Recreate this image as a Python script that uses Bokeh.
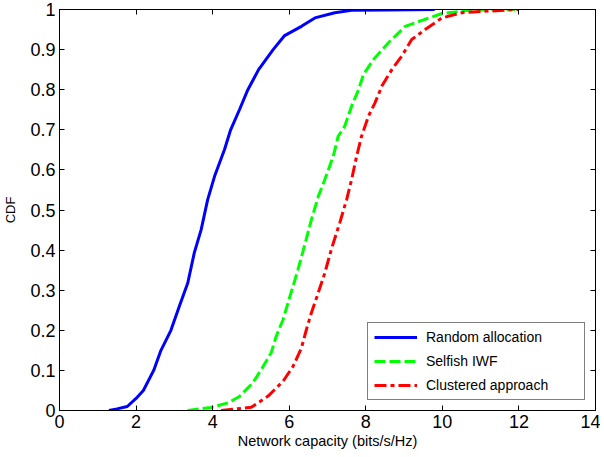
from bokeh.plotting import figure
from bokeh.models import Range1d, LinearAxis, CustomJSTickFormatter, FixedTicker, Legend, LegendItem
from bokeh.embed import file_html
from bokeh.resources import INLINE

# Random allocation
rand_x = [1.29, 1.5, 1.77, 2.0, 2.19, 2.46, 2.65, 2.91, 3.13, 3.35, 3.52, 3.70, 3.87, 4.05, 4.31,
          4.47, 4.70, 4.92, 5.2, 5.58, 5.88, 6.32, 6.67, 7.19, 7.63, 8.5, 9.8]
rand_y = [0, 0.004, 0.01, 0.03, 0.05, 0.10, 0.15, 0.20, 0.26, 0.318, 0.393, 0.451, 0.526, 0.584, 0.651,
          0.70, 0.75, 0.80, 0.85, 0.90, 0.935, 0.958, 0.979, 0.992, 0.998, 0.999, 1.0]

# Selfish IWF
iwf_x = [3.35, 3.96, 4.40, 4.7, 5.05, 5.27, 5.53, 5.66, 5.84, 5.97, 6.10, 6.23, 6.36, 6.58, 6.76,
         6.93, 7.15, 7.28, 7.45, 7.63, 7.81, 7.94, 8.20, 8.59, 9.03, 9.47, 9.99, 10.69, 11.9]
iwf_y = [0, 0.0075, 0.019, 0.035, 0.069, 0.102, 0.144, 0.185, 0.227, 0.269, 0.31, 0.352, 0.397, 0.476, 0.534,
         0.576, 0.634, 0.684, 0.709, 0.759, 0.80, 0.838, 0.875, 0.917, 0.958, 0.973, 0.99, 0.998, 1.0]

# Clustered approach
clu_x = [4.22, 5.01, 5.45, 5.84, 6.10, 6.32, 6.45, 6.58, 6.76, 6.93, 7.11, 7.32, 7.50, 7.63, 7.76,
         7.89, 8.07, 8.24, 8.42, 8.68, 8.94, 9.20, 9.55, 9.99, 10.51, 11.2, 12.0]
clu_y = [0, 0.008, 0.036, 0.073, 0.11, 0.156, 0.202, 0.244, 0.294, 0.343, 0.405, 0.468, 0.526, 0.576, 0.634,
         0.684, 0.734, 0.767, 0.809, 0.85, 0.884, 0.925, 0.95, 0.979, 0.992, 0.996, 1.0]

x_ticks = [0, 2, 4, 6, 8, 10, 12, 14]
y_ticks = [0, 0.1, 0.2, 0.3, 0.4, 0.5, 0.6, 0.7, 0.8, 0.9, 1.0]

FONT = "Liberation Sans"

p = figure(width=600, height=456, output_backend="svg", toolbar_location=None,
           x_range=Range1d(0, 14), y_range=Range1d(0, 1),
           min_border_left=55, min_border_right=5, min_border_top=9, min_border_bottom=46)
p.grid.visible = False
p.outline_line_color = "black"
p.outline_line_width = 1
p.background_fill_color = "white"
p.border_fill_color = "white"

fmt = CustomJSTickFormatter(code="return String(Math.round(tick*10)/10);")

for ax in [p.xaxis[0], p.yaxis[0]]:
    ax.major_tick_in = 5
    ax.major_tick_out = 0
    ax.minor_tick_line_color = None
    ax.axis_line_color = "black"
    ax.major_tick_line_color = "black"
    ax.major_label_text_font = FONT
    ax.major_label_text_font_size = "18px"
    ax.major_label_text_color = "black"
    ax.axis_label_text_font = FONT
    ax.axis_label_text_font_style = "normal"
    ax.axis_label_text_color = "black"

p.xaxis[0].ticker = FixedTicker(ticks=x_ticks)
p.yaxis[0].ticker = FixedTicker(ticks=y_ticks)
p.xaxis[0].formatter = fmt
p.yaxis[0].formatter = fmt
p.xaxis[0].axis_label = "Network capacity (bits/s/Hz)"
p.xaxis[0].axis_label_text_font_size = "14.5px"
p.xaxis[0].major_label_standoff = 4
p.xaxis[0].axis_label_standoff = 2
p.yaxis[0].axis_label = "CDF"
p.yaxis[0].axis_label_text_font_size = "13px"
p.yaxis[0].major_label_standoff = 4
p.yaxis[0].axis_label_standoff = 9

# box ticks on the top and right: minor ticks only, so no labels are drawn
for loc, tk in [("right", y_ticks), ("above", x_ticks)]:
    ax = LinearAxis(ticker=FixedTicker(ticks=[], minor_ticks=tk),
                    major_label_standoff=0, major_tick_in=0, major_tick_out=0,
                    minor_tick_in=5, minor_tick_out=0, axis_line_color="black",
                    minor_tick_line_color="black", major_tick_line_color=None)
    p.add_layout(ax, loc)

r1 = p.line(rand_x, rand_y, line_color="#0000ff", line_width=3)
r2 = p.line(iwf_x, iwf_y, line_color="#00ff00", line_width=3, line_dash="11 4")
r3 = p.line(clu_x, clu_y, line_color="#ff0000", line_width=3, line_dash="12 4 4 4")

legend = Legend(items=[LegendItem(label="Random allocation", renderers=[r1]),
                       LegendItem(label="Selfish IWF", renderers=[r2]),
                       LegendItem(label="Clustered approach", renderers=[r3])],
                location="bottom_right", margin=10, padding=6, spacing=8,
                glyph_width=43, glyph_height=16, label_height=16, label_width=152,
                label_standoff=9, label_text_font=FONT, label_text_font_size="14px",
                label_text_color="black", border_line_color="black", border_line_width=1,
                background_fill_color="white", background_fill_alpha=1)
p.add_layout(legend)

open("out.html", "w").write(file_html(p, INLINE))
